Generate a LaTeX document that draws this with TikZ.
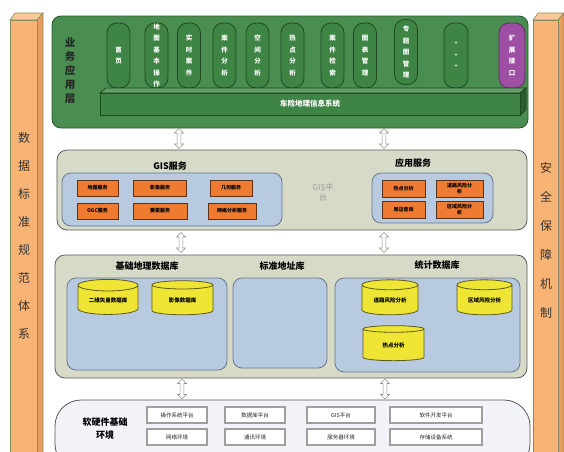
\documentclass[tikz,border=0pt]{standalone}
\usepackage{fontspec}
\setmainfont{Noto Sans CJK SC}
\usetikzlibrary{shapes.geometric,shapes.arrows}
\definecolor{gpanel}{HTML}{4A8D50}
\definecolor{gpaneld}{HTML}{2C5A30}
\definecolor{gpill}{HTML}{3E8444}
\definecolor{gpilld}{HTML}{1D4A22}
\definecolor{purp}{HTML}{9C4FA3}
\definecolor{sidebar}{HTML}{F9B374}
\definecolor{sidebarl}{HTML}{FBC999}
\definecolor{sidebard}{HTML}{E99D5C}
\definecolor{sideedge}{HTML}{8A8A62}
\definecolor{greypanel}{HTML}{D8DAC8}
\definecolor{bluebox}{HTML}{B8CADF}
\definecolor{blueedge}{HTML}{66788E}
\definecolor{obox}{HTML}{EE7B31}
\definecolor{oedge}{HTML}{5C3214}
\definecolor{cyl}{HTML}{EEE535}
\definecolor{cyledge}{HTML}{5E5A1A}
\definecolor{botpanel}{HTML}{F1F3F9}
\definecolor{arrowedge}{HTML}{8A9A86}
\begin{document}
\begin{tikzpicture}[x=1pt,y=-1pt,
  pill/.style={draw=gpilld,fill=gpill,line width=0.8pt,rounded corners=10pt,minimum height=65,minimum width=23,inner sep=0pt,align=center,text=white,font=\bfseries\fontsize{6.5}{11.5}\selectfont},
  panel/.style={draw=gray!70!black,line width=0.8pt,rounded corners=10pt},
  inbox/.style={draw=blueedge,fill=bluebox,line width=0.8pt,rounded corners=9pt},
  obx/.style={draw=oedge,fill=obox,line width=0.8pt,minimum height=16,inner sep=0pt,align=center,font=\bfseries\fontsize{5}{5.5}\selectfont},
  cylnode/.style={cylinder,shape border rotate=90,draw=cyledge,fill=cyl,line width=0.8pt,aspect=0.3,inner sep=0pt,font=\bfseries\fontsize{5.5}{6}\selectfont},
  wbx/.style={draw=gray!75,fill=white,line width=1.1pt,minimum height=16,inner sep=0pt,font=\fontsize{5.5}{6}\selectfont,text=gray!30!black},
  ttl/.style={font=\bfseries\fontsize{9}{10}\selectfont},
  dbl/.style={double arrow,rotate=90,draw=arrowedge,fill=white,line width=0.6pt,minimum height=20,minimum width=9,inner sep=1.4pt,double arrow head extend=2.5pt},
  vtext/.style={align=center,font=\fontsize{12}{28}\selectfont,text=black!80}
]
\useasboundingbox (0,0) rectangle (564,451);

% ---------- side bars ----------
\fill[sidebarl,draw=sideedge,line width=0.6pt] (10,20) -- (15,13) -- (43,13) -- (37,20) -- cycle;
\fill[sidebard,draw=sideedge,line width=0.6pt] (37,20) -- (43,13) -- (43,455) -- (37,455) -- cycle;
\fill[sidebar,draw=sideedge,line width=0.6pt] (10,20) rectangle (37,455);
\node[vtext] (lefttxt) at (24,236) {数\\据\\标\\准\\规\\范\\体\\系};

\fill[sidebarl,draw=sideedge,line width=0.6pt] (533,20) -- (538,13) -- (564,13) -- (558,20) -- cycle;
\fill[sidebard,draw=sideedge,line width=0.6pt] (558,20) -- (564,13) -- (564,455) -- (558,455) -- cycle;
\fill[sidebar,draw=sideedge,line width=0.6pt] (533,20) rectangle (558,455);
\node[vtext,font=\fontsize{12}{29}\selectfont] (righttxt) at (546,240) {安\\全\\保\\障\\机\\制};

% ---------- application layer ----------
\draw[fill=gpanel,draw=gpaneld,line width=0.9pt,rounded corners=9pt] (52,16) rectangle (528,128);
\node[align=center,font=\bfseries\fontsize{10.5}{14}\selectfont,text=black!85] (applbl) at (70,71) {业\\务\\应\\用\\层};

\node[pill] (p1) at (118.5,55.5) {首\\页};
\node[pill] (p2) at (156.5,55.5) {地\\图\\基\\本\\操\\作};
\node[pill] (p3) at (189,55.5) {实\\时\\案\\件};
\node[pill] (p4) at (224.5,55.5) {案\\件\\分\\析};
\node[pill] (p5) at (257.5,55.5) {空\\间\\分\\析};
\node[pill] (p6) at (292.5,55.5) {热\\点\\分\\析};
\node[pill] (p7) at (332.5,55.5) {案\\件\\检\\索};
\node[pill] (p8) at (365,55.5) {图\\表\\管\\理};
\node[pill] (p9) at (406,52) {专\\题\\图\\管\\理};
\node[pill,minimum width=24] (p10) at (456,55.5) {·\\·\\·};
\node[pill,fill=purp,draw=purp!60!black,minimum width=26] (p11) at (512,55.5) {扩\\展\\接\\口};

\fill[gpill!80!white,draw=gpilld,line width=0.8pt] (100,93) -- (106,88) -- (526,88) -- (520,93) -- cycle;
\fill[gpill!70!black,draw=gpilld,line width=0.8pt] (520,93) -- (526,88) -- (526,110) -- (520,115) -- cycle;
\node[draw=gpilld,fill=gpill,line width=0.8pt,minimum width=420,minimum height=22,inner sep=0pt,text=white,font=\bfseries\fontsize{7.5}{8}\selectfont] (bar) at (310,104) {车险地理信息系统};

% ---------- GIS platform layer ----------
\draw[panel,fill=greypanel] (57,150) rectangle (527,230);
\node[ttl] (gisttl) at (170,166) {GIS服务};
\draw[inbox] (62,173) rectangle (282,226);
\node[obx,minimum width=41] (s1) at (97.5,188) {地图服务};
\node[obx,minimum width=53] (s2) at (160,188) {影像服务};
\node[obx,minimum width=42] (s3) at (231,188) {几何服务};
\node[obx,minimum width=41] (s4) at (97.5,211) {OGC服务};
\node[obx,minimum width=54] (s5) at (160,211) {要素服务};
\node[obx,minimum width=48] (s6) at (232,211) {网络分析服务};
\node[align=center,text=gray!80,font=\fontsize{8}{10}\selectfont] (gisplat) at (323,193) {GIS平\\台};
\node[ttl] (appttl) at (413,163) {应用服务};
\draw[inbox] (372,173) rectangle (493,223);
\node[obx,minimum width=43,minimum height=17] (a1) at (403.5,188.5) {热点分析};
\node[obx,minimum width=47,minimum height=17] (a2) at (459.5,188.5) {道路风险分\\析};
\node[obx,minimum width=43,minimum height=17] (a3) at (403.5,209.5) {周边查询};
\node[obx,minimum width=47,minimum height=17] (a4) at (459.5,209.5) {区域风险分\\析};

% ---------- data layer ----------
\draw[panel,fill=greypanel] (55,255) rectangle (527,378);
\node[ttl] (bdttl) at (147,266) {基础地理数据库};
\draw[inbox] (67,278) rectangle (227,370);
\node[cylnode,minimum height=35,minimum width=60] (c1) at (108,300) {二维矢量数据库};
\node[cylnode,minimum height=34,minimum width=61] (c2) at (182.5,300) {影像数据库};
\node[ttl] (addrttl) at (282,266) {标准地址库};
\draw[inbox] (233,278) rectangle (327,368);
\node[ttl] (statttl) at (437,265) {统计数据库};
\draw[inbox] (335,278) rectangle (520,372);
\node[cylnode,minimum height=35,minimum width=56] (c3) at (390,300) {道路风险分析};
\node[cylnode,minimum height=35,minimum width=55] (c4) at (484.5,300) {区域风险分析};
\node[cylnode,minimum height=35,minimum width=61] (c5) at (393.5,345) {热点分析};

% ---------- infrastructure layer ----------
\draw[draw=gray!70!black,line width=0.8pt,fill=botpanel,rounded corners=26pt] (55,400) rectangle (530,470);
\node[align=center,font=\bfseries\fontsize{9}{13}\selectfont] (infttl) at (105,429) {软硬件基础\\环境};
\node[wbx,minimum width=60] (b1) at (177,415) {操作系统平台};
\node[wbx,minimum width=60] (b2) at (255,415) {数据库平台};
\node[wbx,minimum width=68] (b3) at (341,415) {GIS平台};
\node[wbx,minimum width=92] (b4) at (436,415) {软件开发平台};
\node[wbx,minimum width=60] (b5) at (177,437) {网络环境};
\node[wbx,minimum width=60] (b6) at (255,437) {通讯环境};
\node[wbx,minimum width=68] (b7) at (341,437) {服务器环境};
\node[wbx,minimum width=92] (b8) at (436,437) {存储设备系统};

% ---------- double arrows ----------
\node[dbl] (ar1) at (179,138.5) {};
\node[dbl] (ar2) at (384,138.5) {};
\node[dbl] (ar3) at (181,242.5) {};
\node[dbl] (ar4) at (384,242.5) {};
\node[dbl] (ar5) at (182,389) {};
\node[dbl] (ar6) at (385,389) {};
\end{tikzpicture}
\end{document}
